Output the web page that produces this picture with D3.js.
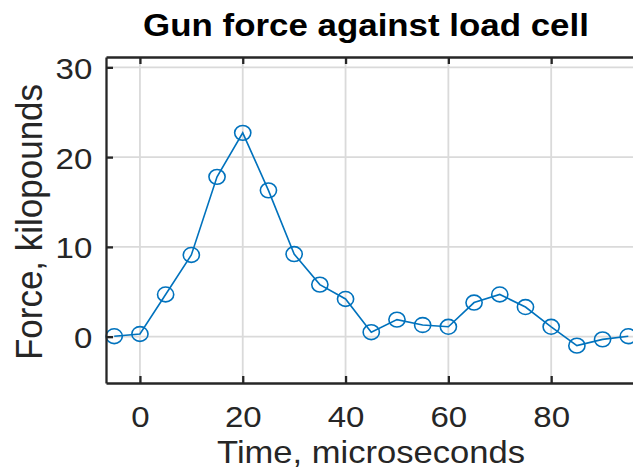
<!DOCTYPE html>
<html><head><meta charset="utf-8">
<script src="https://cdn.jsdelivr.net/npm/d3@7/dist/d3.min.js"></script>
<style>html,body{margin:0;padding:0;background:#fff;}svg{display:block;}</style>
</head><body>
<svg id="chart" width="633" height="474"></svg>
<script>
const timeUs = [-5, 0, 5, 10, 15, 20, 25, 30, 35, 40, 45, 50, 55, 60, 65, 70, 75, 80, 85, 90, 95];
const forceKlb = [0.05, 0.3, 4.7, 9.1, 17.8, 22.7, 16.3, 9.2, 5.8, 4.2, 0.5, 1.9, 1.3, 1.1, 3.8, 4.7, 3.3, 1.1, -1.0, -0.3, 0.05];
const xTicks = [0, 20, 40, 60, 80];
const yTicks = [0, 10, 20, 30];
const titleText = "Gun force against load cell";
const xLabelText = "Time, microseconds";
const yLabelText = "Force, kilopounds";

const svg = d3.select("#chart");
const L = 106, R = 636, T = 57, B = 383;
const x = d3.scaleLinear().domain([-6.6, 96.5]).range([L, R]);
const y = d3.scaleLinear().domain([-5.16, 31.15]).range([B, T]);
const axisCol = "#262626", gridCol = "#dadada", lineCol = "#0072BD";
const sx = 1.1;

// grid
svg.append("g").selectAll("line").data(xTicks).join("line")
  .attr("x1", d => x(d)).attr("x2", d => x(d)).attr("y1", T).attr("y2", B)
  .attr("stroke", gridCol).attr("stroke-width", 1.8);
svg.append("g").selectAll("line").data(yTicks).join("line")
  .attr("y1", d => y(d)).attr("y2", d => y(d)).attr("x1", L).attr("x2", R)
  .attr("stroke", gridCol).attr("stroke-width", 1.8);

// data
const line = d3.line().x((d, i) => x(timeUs[i])).y(d => y(d));
svg.append("path").datum(forceKlb).attr("d", line)
  .attr("fill", "none").attr("stroke", lineCol).attr("stroke-width", 1.6);
svg.append("g").selectAll("ellipse").data(forceKlb).join("ellipse")
  .attr("cx", (d, i) => x(timeUs[i])).attr("cy", d => y(d))
  .attr("rx", 8.1).attr("ry", 7.4)
  .attr("fill", "none").attr("stroke", lineCol).attr("stroke-width", 1.6);

// axes via d3 axis
const fontFam = "'Liberation Sans', Arial, Helvetica, sans-serif";
const xAxis = svg.append("g").attr("transform", `translate(0,${B})`)
  .call(d3.axisBottom(x).tickValues(xTicks).tickSizeInner(-7).tickSizeOuter(0).tickFormat(d3.format("d")));
const yAxis = svg.append("g").attr("transform", `translate(${L},0)`)
  .call(d3.axisLeft(y).tickValues(yTicks).tickSizeInner(-7).tickSizeOuter(0).tickFormat(d3.format("d")));
const xTop = svg.append("g").attr("transform", `translate(0,${T})`)
  .call(d3.axisTop(x).tickValues(xTicks).tickSizeInner(-7).tickSizeOuter(0).tickFormat(""));
[xAxis, yAxis, xTop].forEach(g => {
  g.select(".domain").attr("stroke", axisCol).attr("stroke-width", 2.3);
  g.selectAll(".tick line").attr("stroke", axisCol).attr("stroke-width", 2.3);
});
xAxis.selectAll(".tick text").attr("y", null).attr("dy", null)
  .attr("transform", `translate(0,43.7) scale(${sx},1)`)
  .attr("fill", axisCol).style("font-family", fontFam).style("font-size", "30px");
yAxis.selectAll(".tick text").attr("x", null).attr("dy", null)
  .attr("text-anchor", "end")
  .attr("transform", `translate(-13.7,11) scale(${sx},1)`)
  .attr("fill", axisCol).style("font-family", fontFam).style("font-size", "30px");

// title and labels
svg.append("text").text(titleText)
  .attr("transform", `translate(366,36) scale(1.09,1)`)
  .attr("text-anchor", "middle").attr("fill", "#000")
  .style("font-family", fontFam).style("font-weight", "bold").style("font-size", "32px");
svg.append("text").text(xLabelText)
  .attr("transform", `translate(371,462.7) scale(1.08,1)`)
  .attr("text-anchor", "middle").attr("fill", axisCol)
  .style("font-family", fontFam).style("font-size", "32px");
svg.append("text").text(yLabelText)
  .attr("transform", `translate(42,222) scale(1.06,1) rotate(-90)`)
  .attr("text-anchor", "middle").attr("fill", axisCol)
  .style("font-family", fontFam).style("font-size", "35px");
</script>
</body></html>
